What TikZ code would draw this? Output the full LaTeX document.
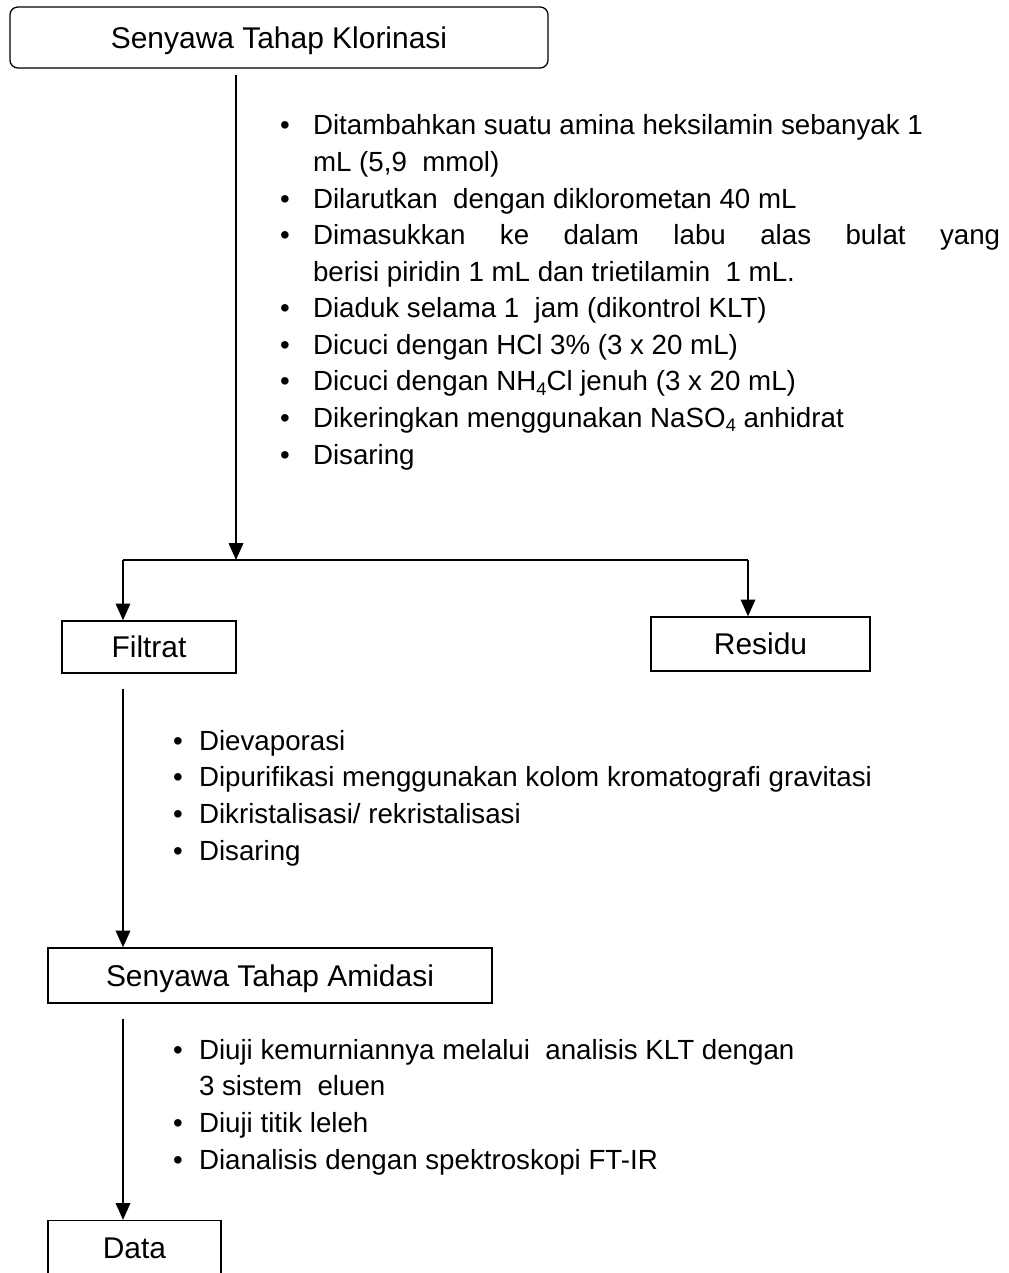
\documentclass[tikz,border=0pt]{standalone}
\usepackage{fontspec}
\setmainfont{Liberation Sans}
\usetikzlibrary{arrows.meta}

% butir daftar: titik lalu teks, baris lanjutan menjorok
\newcommand{\butir}[2][0.825cm]{\makebox[#1][l]{\textbullet}#2}
\newcommand{\lanjut}[2][0.825cm]{\hspace*{#1}#2}
\newcommand{\bawah}[1]{\raisebox{-0.15em}{\fontsize{13}{13}\selectfont #1}}

\begin{document}
\begin{tikzpicture}[x=0.025cm, y=-0.025cm, line width=1.5pt,
    kotak/.style={draw, line width=0.9pt, inner sep=0pt, text depth=0pt,
        font=\fontsize{21.3}{25}\selectfont},
    panah/.style={-{Triangle[length=0.42cm, width=0.36cm]}},
    daftar/.style={anchor=base west, align=left, inner sep=0pt,
        font=\fontsize{19.7}{26}\selectfont}]

    % ukuran gambar (1 satuan = 1 piksel)
    \useasboundingbox (0,0) rectangle (1008,1273);
    \clip (0,0) rectangle (1008,1273);

    % Kotak-kotak
    \node[kotak, rounded corners=0.2cm, minimum width=13.45cm, minimum height=1.525cm]
        (klorinasi) at (279,37.5) {Senyawa Tahap Klorinasi};
    \node[kotak, minimum width=4.35cm, minimum height=1.3cm] (filtrat) at (149,647) {Filtrat};
    \node[kotak, minimum width=5.475cm, minimum height=1.35cm] (residu) at (760.5,644) {Residu};
    \node[kotak, minimum width=11.1cm, minimum height=1.375cm] (amidasi) at (270,975.5) {Senyawa Tahap Amidasi};
    \node[kotak, minimum width=4.325cm, minimum height=1.375cm] (data) at (134.5,1248) {Data};

    % Titik cabang
    \coordinate (pisah) at (236,560);
    \coordinate (kiri) at (123,560);
    \coordinate (kanan) at (748,560);

    % Panah
    \draw[panah, shorten <=0.15cm] (klorinasi.south -| pisah) -- (pisah);
    \draw (kiri) -- (kanan);
    \draw[panah] (kiri) -- (kiri |- filtrat.north);
    \draw[panah] (kanan) -- (kanan |- residu.north);
    \draw[panah, shorten <=0.375cm] (kiri |- filtrat.south) -- (kiri |- amidasi.north);
    \draw[panah, shorten <=0.375cm] (kiri |- amidasi.south) -- (kiri |- data.north);

    % Tahap klorinasi -> amidasi (jangkar = garis dasar baris terakhir)
    \node[daftar] (langkah1) at (279,464) {%
        \butir{Ditambahkan suatu amina heksilamin sebanyak 1}\\
        \lanjut{mL (5,9\ \ mmol)}\\
        \butir{Dilarutkan\ \ dengan diklorometan 40 mL}\\
        \butir{\makebox[17.175cm][s]{Dimasukkan ke dalam labu alas bulat yang}}\\
        \lanjut{berisi piridin 1 mL dan trietilamin\ \ 1 mL.}\\
        \butir{Diaduk selama 1\ \ jam (dikontrol KLT)}\\
        \butir{Dicuci dengan HCl 3\% (3 x 20 mL)}\\
        \butir{Dicuci dengan NH\bawah{4}Cl jenuh (3 x 20 mL)}\\
        \butir{Dikeringkan menggunakan NaSO\bawah{4} anhidrat}\\
        \butir{Disaring}};

    % Filtrat
    \node[daftar] (langkah2) at (172,860) {%
        \butir[0.65cm]{Dievaporasi}\\
        \butir[0.65cm]{Dipurifikasi menggunakan kolom kromatografi gravitasi}\\
        \butir[0.65cm]{Dikristalisasi/ rekristalisasi}\\
        \butir[0.65cm]{Disaring}};

    % Uji senyawa amidasi
    \node[daftar] (langkah3) at (172,1169) {%
        \butir[0.65cm]{Diuji kemurniannya melalui\ \ analisis KLT dengan}\\
        \lanjut[0.65cm]{3 sistem\ \ eluen}\\
        \butir[0.65cm]{Diuji titik leleh}\\
        \butir[0.65cm]{Dianalisis dengan spektroskopi FT-IR}};

\end{tikzpicture}
\end{document}
